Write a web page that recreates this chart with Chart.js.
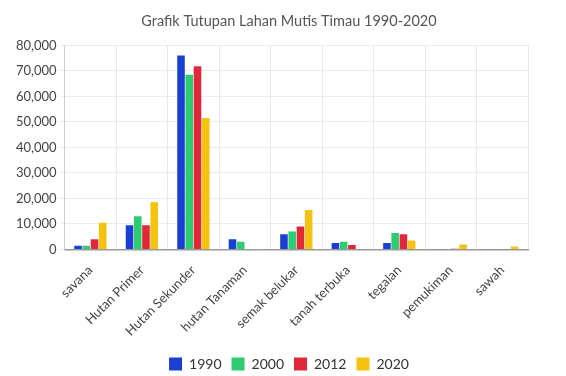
<!DOCTYPE html>
<html>
<head>
<meta charset="utf-8">
<script src="https://cdn.jsdelivr.net/npm/chart.js"></script>
<style>
  html, body { margin: 0; padding: 0; background: #fff; }
  #wrap { width: 566px; height: 376px; }
</style>
</head>
<body>
<div id="wrap"><canvas id="landChart"></canvas></div>
<script>
'use strict'

// land cover categories and area per year
var categories = ['savana', 'Hutan Primer', 'Hutan Sekunder', 'hutan Tanaman', 'semak belukar', 'tanah terbuka', 'tegalan', 'pemukiman', 'sawah'];
var years = ['1990', '2000', '2012', '2020'];
var values1990 = [1500, 9500, 76000, 4000, 6000, 2500, 2500, 100, 100];
var values2000 = [1500, 13000, 68500, 3000, 7000, 3000, 6500, 100, 100];
var values2012 = [4000, 9500, 71800, 200, 9000, 1800, 6000, 300, 100];
var values2020 = [10500, 18500, 51500, 100, 15500, 200, 3500, 2000, 1200];
var colors = ['#1c3fd3', '#2ecc71', '#e0283a', '#f5c20f'];

// nudge the legend a little lower than chart.js puts it
var legendShift = {
  id: 'legendShift',
  afterLayout: function (chart) {
    chart.legend.top += 5;
    chart.legend.bottom += 5;
  }
};

function renderChart() {
  var ctx = document.getElementById('landChart').getContext('2d');
  var series = [values1990, values2000, values2012, values2020];
  var chart = new Chart(ctx, {
    type: 'bar',
    data: {
      labels: categories,
      datasets: series.map(function (vals, i) {
        return {
          label: years[i],
          data: vals,
          backgroundColor: colors[i],
          borderWidth: 0,
          categoryPercentage: 0.64,
          barPercentage: 0.92
        };
      })
    },
    plugins: [legendShift],
    options: {
      responsive: true,
      maintainAspectRatio: false,
      animation: false,
      layout: { padding: { left: 12, right: 0, top: 9, bottom: 0 } },
      plugins: {
        title: {
          display: true,
          text: 'Grafik Tutupan Lahan Mutis Timau 1990-2020',
          color: '#555',
          font: { family: 'Lato', size: 14.5, weight: 'normal' },
          padding: { top: 4, bottom: 15 }
        },
        legend: {
          position: 'bottom',
          labels: {
            color: '#333',
            boxWidth: 13,
            boxHeight: 13,
            padding: 10,
            font: { family: 'Lato', size: 14 }
          }
        }
      },
      scales: {
        x: {
          grid: { color: '#e8e8e8', drawTicks: false },
          border: { color: '#999', width: 1.5 },
          ticks: {
            color: '#444',
            maxRotation: 45,
            minRotation: 45,
            padding: 13,
            font: { family: 'Lato', size: 13 }
          },
          // labels may reach into the gap above the legend
          afterFit: function (scale) { scale.height -= 10; }
        },
        y: {
          min: 0,
          max: 80000,
          grid: { color: '#ececec', tickLength: 4 },
          border: { display: true, color: '#ccc' },
          ticks: {
            stepSize: 10000,
            color: '#444',
            padding: 4,
            font: { family: 'Lato', size: 13 }
          }
        },
        // empty right axis, only reserves space on the right side
        spacer: {
          position: 'right',
          grid: { display: false },
          border: { display: false },
          ticks: { display: false },
          afterFit: function (scale) { scale.width = 38; }
        }
      }
    }
  });
}

renderChart();
</script>
</body>
</html>
